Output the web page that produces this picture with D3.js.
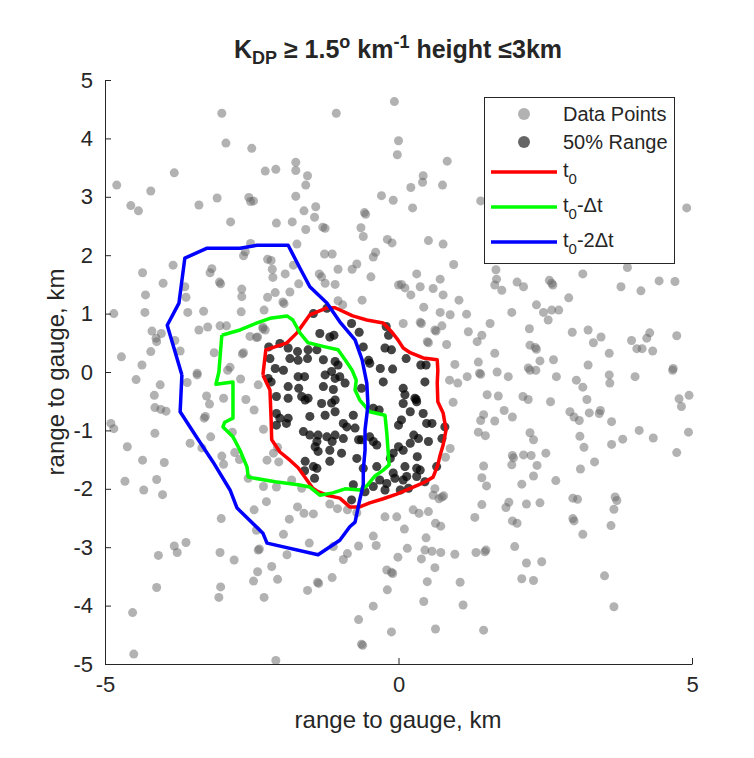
<!DOCTYPE html>
<meta charset="utf-8">
<style>
body { margin: 0; background: #fff; }
text { font-family: "Liberation Sans", Arial, Helvetica, sans-serif; fill: #262626; }
.axis .domain { stroke: #262626; }
.axis line { stroke: #262626; }
</style>
<body>
<svg width="754" height="758"></svg>
<script src="https://cdn.jsdelivr.net/npm/d3@7/dist/d3.min.js"></script>
<script>
// all radar points (km east, km north of the gauge)
var lightPts = [
  [-4.80,3.20],[-4.56,2.85],[-4.43,2.76],[-4.22,3.10],[-3.82,3.41],[-3.01,4.43],[-2.94,3.92],[-2.50,3.83],
  [-3.40,2.86],[-3.09,2.98],[-2.55,2.99],[-2.47,2.93],[-2.52,2.92],[-2.27,3.44],[-2.09,3.47],[-1.75,3.59],
  [-1.75,3.45],[-1.55,3.36],[-1.58,3.20],[-1.75,3.01],[-1.61,2.76],[-1.41,2.83],[-1.43,2.65],[-1.58,2.44],
  [-1.29,2.48],[-1.25,2.46],[-1.81,2.57],[-2.08,2.55],[-2.86,2.57],[-1.06,4.43],[-0.07,4.63],[0.00,3.96],
  [-0.02,3.72],[-0.29,3.02],[-0.09,2.94],[-0.58,2.73],[-0.56,2.70],[-0.64,2.47],[-0.60,2.32],[-0.19,2.27],
  [-0.11,2.21],[-0.43,1.97],[-0.39,2.05],[-0.71,1.85],[-0.79,1.76],[-0.47,1.63],[0.00,1.49],[-1.03,1.76],
  [-1.08,1.50],[-1.25,1.52],[-1.35,1.68],[-1.31,1.63],[-1.26,2.02],[-1.13,2.02],[-1.70,1.51],[-1.85,1.37],
  [-1.93,1.68],[-1.79,1.83],[-1.73,2.19],[-2.14,1.62],[-2.15,1.76],[-2.23,1.93],[-2.17,1.91],[-2.10,1.36],
  [-2.23,1.28],[-1.97,1.20],[-1.95,1.17],[-2.29,1.06],[-2.31,0.77],[-2.42,0.59],[-2.67,1.42],[-2.67,1.29],
  [-2.68,1.03],[-2.64,1.99],[-2.61,2.06],[-2.52,2.20],[-3.21,1.70],[-3.18,1.77],[-3.05,1.54],[-3.03,1.51],
  [-3.84,1.83],[-4.36,1.70],[-4.01,1.52],[-4.31,1.32],[-4.32,1.02],[-4.85,1.00],[-3.64,1.46],[-3.62,1.28],
  [-3.59,1.02],[-3.32,1.04],[-4.20,0.70],[-4.13,0.58],[-4.12,0.52],[-4.04,0.66],[-3.81,0.54],[-4.22,0.35],
  [-3.72,0.36],[-4.72,0.26],[-4.37,0.12],[-3.40,0.72],[-3.25,0.77],[-3.04,0.79],[-2.93,0.79],[-3.14,0.33],
  [-2.87,0.08],[-2.66,0.31],[-2.64,0.33],[-2.27,0.72],[-2.31,0.74],[-2.53,0.61],[-2.40,0.60],[-3.43,-0.02],
  [-1.03,1.22],[-0.95,1.15],[-0.62,1.23],
  [0.83,3.61],[0.42,3.36],[0.41,3.25],[0.21,3.16],[0.75,3.20],[0.24,2.81],[1.40,2.93],[4.91,2.81],
  [0.51,2.25],[0.76,2.19],[0.94,1.84],[0.31,1.68],[0.05,1.50],[0.11,1.44],[0.21,1.32],[0.37,1.46],
  [0.59,1.43],[0.71,1.59],[0.76,1.32],[1.03,1.23],[0.43,1.11],[0.71,1.02],[0.88,0.98],[1.16,0.99],
  [0.08,0.83],[0.37,0.85],[0.39,0.83],[0.74,0.79],[0.62,0.72],[0.64,0.70],[0.49,0.52],[0.51,0.50],
  [0.82,0.47],[1.19,0.69],[1.34,0.52],[1.42,0.63],[1.56,0.83],[1.64,0.32],[1.36,0.17],[0.96,0.13],
  [1.67,1.59],[1.66,1.75],[1.64,1.49],[1.76,1.40],[2.02,1.54],[2.13,1.46],[1.93,1.02],[2.57,1.57],
  [2.63,1.49],[2.61,1.52],[2.90,1.27],[2.47,1.02],[2.55,0.89],[2.61,1.06],[2.73,1.06],[2.35,1.15],
  [3.14,1.68],[3.90,1.79],[3.79,1.46],[4.13,1.39],[4.44,1.56],[4.71,1.55],[2.23,0.74],[2.24,0.46],
  [2.35,0.39],[2.33,0.42],[2.41,0.19],[2.64,0.21],[2.96,0.68],[3.23,0.72],[3.45,0.60],[3.32,0.50],
  [3.59,0.32],[3.97,0.54],[4.06,0.40],[4.15,0.40],[4.28,0.67],[4.23,0.58],[4.33,0.36],[4.74,0.62],
  [4.68,0.06],[3.23,0.12],[2.21,0.07],
  [0.87,-0.14],[1.01,-0.19],[1.17,-0.08],[1.38,-0.02],[1.40,-0.04],[1.68,0.00],[1.87,-0.08],[2.24,0.03],
  [2.34,0.03],[2.69,-0.08],[3.03,-0.14],[3.14,-0.26],[3.59,-0.05],[3.60,-0.19],[4.03,-0.08],[4.67,0.03],
  [4.78,-0.46],[4.82,-0.59],[4.95,-0.40],[0.93,-0.52],[1.51,-0.39],[1.70,-0.41],[2.12,-0.42],[2.21,-0.47],
  [2.59,-0.51],[3.21,-0.47],[2.92,-0.68],[2.99,-0.77],[3.08,-0.83],[3.25,-0.70],[3.42,-0.71],[3.44,-0.66],
  [3.63,-0.85],[4.10,-1.00],[4.34,-1.13],[3.82,-1.15],[3.63,-1.24],[4.94,-1.03],[4.74,-1.38],[1.45,-0.73],
  [1.40,-0.83],[1.64,-0.84],[1.80,-0.66],[1.94,-0.77],[1.36,-1.03],[1.48,-1.09],[2.24,-1.04],[2.30,-1.16],
  [3.09,-1.10],[3.16,-1.29],[3.34,-1.54],[3.10,-1.66],[1.94,-1.43],[1.93,-1.59],[1.96,-1.47],[2.13,-1.42],
  [2.26,-1.43],[2.51,-1.39],[2.36,-1.60],[2.30,-1.78],[2.10,-1.92],[2.68,-1.86],[1.45,-1.61],[1.42,-1.81],
  [1.50,-1.95],[0.88,-1.31],[0.80,-1.46],[0.74,-2.14],[0.59,-2.11],[0.69,-2.17],[0.77,-2.12],[0.62,-2.00],
  [1.42,-2.27],[1.88,-2.23],[1.83,-2.32],[2.18,-2.26],[2.41,-2.24],[2.97,-2.16],[3.05,-2.18],[3.69,-2.14],
  [3.72,-2.20],[3.67,-2.35],[3.62,-2.63],[3.14,-2.78],[2.97,-2.51],[2.99,-2.55],[1.94,-2.55],[2.02,-2.59],
  [1.30,-2.49],[0.10,-2.69],[-0.03,-2.48],[0.25,-2.36],[0.35,-2.42],[0.51,-2.39],[0.63,-2.59],[0.72,-2.64],
  [0.47,-2.84],[0.15,-3.02],[0.45,-3.05],[0.57,-3.07],[0.72,-3.09],[0.96,-3.12],[1.32,-3.09],[1.49,-3.05],
  [1.47,-3.08],[1.98,-2.99],[-0.01,-3.17],[0.39,-3.20],[0.62,-3.35],[2.18,-3.27],[2.44,-3.25],[2.10,-3.54],
  [2.30,-3.57],[0.49,-3.59],[1.05,-3.60],[3.51,-3.49],[0.43,-3.93],[1.10,-3.99],[3.67,-4.02],[0.63,-4.40],
  [1.45,-4.42],
  [-4.47,-0.13],[-4.06,-0.22],[-4.16,-0.40],[-4.15,-0.61],[-4.05,-0.64],[-3.96,-0.67],[-4.90,-0.88],[-4.85,-0.97],
  [-4.62,-1.28],[-4.36,-1.51],[-3.99,-1.55],[-4.66,-1.87],[-4.12,-1.84],[-4.34,-2.02],[-4.02,-2.10],[-4.15,-1.05],
  [-3.55,-1.22],[-3.60,-0.18],[-3.43,-0.05],[-3.27,-0.41],[-3.22,-0.55],[-3.31,-0.79],[-3.29,-0.76],[-3.20,-1.11],
  [-3.35,-1.30],[-3.01,-1.44],[-2.98,-1.58],[-2.79,-1.38],[-2.71,-1.50],[-2.98,-0.45],[-2.83,-1.03],[-2.69,-0.12],
  [-2.60,-0.47],[-2.46,-0.65],[-2.30,-0.98],[-2.39,-0.22],[-2.91,0.03],[-2.24,-1.51],[-2.13,-1.39],[-2.04,-1.54],
  [-2.06,-1.29],[-2.56,-1.82],[-2.30,-1.96],[-2.08,-1.97],[-1.82,-1.85],[-1.65,-1.99],[-2.46,-2.36],[-3.02,-2.51],
  [-1.72,-2.31],[-1.61,-2.42],[-1.45,-2.43],[-1.86,-2.52],[-2.42,-2.71],[-1.96,-2.78],[-2.39,-3.05],[-2.37,-3.03],
  [-1.90,-3.13],[-2.16,-3.33],[-2.40,-3.42],[-2.06,-3.55],[-2.47,-3.58],[-2.29,-3.86],[-3.04,-3.09],[-2.80,-3.22],
  [-3.03,-3.68],[-3.06,-3.86],[-3.82,-2.98],[-3.77,-3.09],[-3.62,-2.92],[-4.09,-3.14],[-4.12,-3.69],[-4.53,-4.12],
  [-4.51,-4.83],[-2.09,-4.94],[-1.17,-2.26],[-1.04,-2.34],[-0.87,-2.36],[-0.71,-2.41],[-1.52,-2.93],[-1.38,-3.60],
  [-1.36,-3.62],[-1.55,-3.74],[-1.13,-3.52],[-0.94,-3.21],[-0.87,-3.11],[-0.68,-2.98],[-1.11,-2.99],[-0.43,-2.81],
  [-0.38,-2.97],[-0.23,-2.48],[-0.20,-3.39],[-0.10,-3.45],[-0.12,-3.43],[-0.19,-3.73],[-0.43,-4.01],[-0.68,-4.24],
  [-0.63,-4.66],[-0.61,-4.68],[-0.12,-4.45],[-2.25,-2.22]
];

// points inside the 50% range (drawn dark on top)
var rangePts = [
  [-1.34,0.66],[-1.10,0.63],[-1.17,0.60],[-2.21,0.43],[-2.02,0.49],[-1.88,0.41],[-1.72,0.35],[-1.54,0.38],
  [-1.39,0.38],[-1.85,0.23],[-1.71,0.20],[-1.55,0.23],[-1.28,0.21],[-1.08,0.18],[-1.03,0.12],[-2.10,0.06],
  [-1.96,0.03],[-1.60,-0.08],[-1.71,-0.08],[-1.25,-0.05],[-1.14,0.01],[-1.08,-0.11],[-1.00,-0.08],[-2.22,-0.11],
  [-2.17,-0.17],[-1.88,-0.25],[-1.70,-0.28],[-1.28,-0.25],[-1.11,-0.30],[-0.91,-0.19],[-2.08,-0.42],[-1.88,-0.45],
  [-1.65,-0.42],[-1.59,-0.48],[-1.54,-0.45],[-1.08,-0.48],[-1.45,1.00],[-1.22,1.09],[-2.19,0.23],
  [-0.80,0.83],[-0.67,0.68],[-0.21,0.78],[-0.17,0.63],[-0.60,0.43],[-0.23,0.41],[-0.12,0.38],[-0.51,0.20],
  [-0.49,0.15],[-0.31,0.06],[-0.10,0.05],[0.13,0.23],[0.38,0.12],[0.47,0.12],[0.45,-0.17],[-0.26,-0.17],
  [0.08,-0.28],[0.11,-0.39],[0.28,-0.45],[0.30,-0.47],[-0.63,-0.28],
  [-1.31,-0.54],[-1.14,-0.53],[-1.08,-0.68],[-2.08,-0.71],[-2.02,-0.79],[-1.88,-0.79],[-1.91,-0.88],[-1.51,-0.76],
  [-1.25,-0.74],[-0.94,-0.88],[-0.88,-0.94],[-2.08,-0.91],[-1.62,-1.02],[-1.51,-1.08],[-1.37,-1.08],[-1.39,-1.19],
  [-1.22,-1.11],[-1.08,-1.08],[-1.13,-1.19],[-0.94,-1.14],[-1.42,-1.28],[-1.37,-1.36],[-1.17,-1.34],[-0.97,-1.39],
  [-1.59,-1.53],[-1.45,-1.62],[-1.39,-1.65],[-1.17,-1.53],[-1.60,-1.69],[-1.43,-1.82],
  [-0.77,-0.74],[-0.43,-0.62],[-0.33,-0.65],[0.08,-0.54],[0.31,-0.51],[0.20,-0.68],[0.42,-0.71],[0.48,-0.88],
  [0.57,-0.88],[0.05,-0.82],[0.00,-0.91],[-0.74,-0.96],[-0.68,-1.16],[-0.63,-1.16],[-0.49,-1.11],[-0.43,-1.19],
  [0.26,-1.08],[0.34,-1.14],[0.51,-1.19],[0.20,-1.22],[0.00,-1.28],[0.08,-1.34],[-0.37,-1.25],[-0.71,-1.48],
  [-0.14,-1.48],[-0.09,-1.39],[0.31,-1.65],[0.37,-1.68],[-0.37,-1.62],[0.11,-1.62],[-0.77,-1.93],[-0.32,-1.85],
  [-0.43,-1.96],[-0.09,-1.73],[-0.06,-1.82],[0.08,-1.85],[0.14,-1.79],[0.31,-1.79],[0.45,-1.88],[-0.20,-1.91],
  [-0.23,-2.02],[0.03,-2.02],[0.17,-1.99],[-0.80,-2.19],[-0.57,-2.05],[-0.60,-1.65],
  [0.79,-0.94],[0.74,-1.14],[0.65,-1.62],[0.32,-1.45]
];

// 50% range outlines
var t0Line = [
  [-2.31,-0.05],[-2.26,0.38],[-1.90,0.50],[-1.73,0.67],[-1.51,0.98],[-1.22,1.10],[-1.08,1.10],[-0.78,0.96],
  [-0.54,0.89],[-0.26,0.84],[-0.11,0.68],[-0.01,0.55],[0.08,0.41],[0.20,0.33],[0.42,0.24],[0.66,0.21],
  [0.67,0.03],[0.66,-0.19],[0.67,-0.51],[0.76,-0.70],[0.81,-0.99],[0.76,-1.25],[0.71,-1.42],[0.67,-1.59],
  [0.59,-1.80],[0.42,-1.90],[0.14,-2.02],[-0.03,-2.09],[-0.26,-2.17],[-0.49,-2.24],[-0.66,-2.31],[-0.83,-2.31],
  [-1.00,-2.16],[-1.22,-2.11],[-1.37,-2.05],[-1.46,-1.99],[-1.56,-1.85],[-1.71,-1.64],[-1.85,-1.51],[-2.02,-1.37],
  [-2.16,-1.16],[-2.17,-0.82],[-2.19,-0.31],[-2.31,-0.05]
];
var t1Line = [
  [-3.01,0.63],[-2.70,0.72],[-2.41,0.84],[-2.19,0.92],[-1.90,0.96],[-1.80,0.89],[-1.68,0.67],[-1.54,0.50],
  [-1.25,0.43],[-1.03,0.38],[-0.91,0.21],[-0.79,0.03],[-0.72,-0.14],[-0.74,-0.31],[-0.66,-0.48],[-0.49,-0.68],
  [-0.23,-0.74],[-0.20,-1.04],[-0.16,-1.59],[-0.26,-1.68],[-0.40,-1.78],[-0.54,-1.95],[-0.66,-2.02],[-0.91,-2.00],
  [-1.12,-2.07],[-1.34,-2.11],[-1.51,-1.97],[-1.71,-1.93],[-2.10,-1.88],[-2.56,-1.80],[-2.58,-1.63],[-2.70,-1.34],
  [-2.82,-1.11],[-2.99,-0.94],[-2.96,-0.86],[-2.82,-0.79],[-2.82,-0.17],[-3.11,-0.21],[-3.06,0.00],[-3.01,0.63]
];
var t2Line = [
  [-3.69,-0.05],[-3.94,0.80],[-3.74,1.18],[-3.64,1.95],[-3.26,2.12],[-2.70,2.12],[-2.41,2.17],[-1.88,2.17],
  [-1.68,1.78],[-1.51,1.46],[-1.22,1.18],[-1.00,0.86],[-0.74,0.55],[-0.62,0.21],[-0.54,-0.19],[-0.52,-0.57],
  [-0.57,-0.99],[-0.57,-1.34],[-0.60,-1.68],[-0.60,-1.93],[-0.66,-2.19],[-0.74,-2.57],[-0.83,-2.65],[-1.00,-2.88],
  [-1.37,-3.13],[-2.24,-2.93],[-2.31,-2.76],[-2.75,-2.33],[-2.87,-2.02],[-3.16,-1.54],[-3.43,-1.13],[-3.72,-0.68],
  [-3.69,-0.05]
];

var xTicks = [-5, 0, 5];
var yTicks = [-5, -4, -3, -2, -1, 0, 1, 2, 3, 4, 5];
var lineNames = ["t0", "t0-Δt", "t0-2Δt"];
var lineColors = ["#ff0000", "#00ff00", "#0000ff"];

var svg = d3.select("svg");
var x = d3.scaleLinear().domain([-5, 5]).range([105, 692]);
var y = d3.scaleLinear().domain([-5, 5]).range([664, 80]);

// points
var allPts = lightPts.concat(rangePts);
svg.append("g").selectAll("circle")
  .data(allPts)
  .enter().append("circle")
    .attr("cx", function(d) { return x(d[0]); })
    .attr("cy", function(d) { return y(d[1]); })
    .attr("r", 4.5)
    .attr("fill", "#666")
    .attr("fill-opacity", 0.5);

svg.append("g").selectAll("circle")
  .data(rangePts)
  .enter().append("circle")
    .attr("cx", function(d) { return x(d[0]); })
    .attr("cy", function(d) { return y(d[1]); })
    .attr("r", 4.5)
    .attr("fill", "#000")
    .attr("fill-opacity", 0.62);

// outlines
var line = d3.line()
  .x(function(d) { return x(d[0]); })
  .y(function(d) { return y(d[1]); });

[t0Line, t1Line, t2Line].forEach(function(pts, i) {
  svg.append("path")
    .attr("d", line(pts))
    .attr("fill", "none")
    .attr("stroke", lineColors[i])
    .attr("stroke-width", 3.5)
    .attr("stroke-linejoin", "round");
});

// axes
var fmt = function(d) { return String(d); };
svg.append("g")
    .attr("class", "axis")
    .attr("transform", "translate(0,664)")
    .call(d3.axisBottom(x).tickValues(xTicks).tickSizeInner(-6).tickSizeOuter(0).tickPadding(12).tickFormat(fmt))
    .call(function(g) { g.selectAll("text").attr("font-size", 22).attr("font-family", null); });

svg.append("g")
    .attr("class", "axis")
    .attr("transform", "translate(105,0)")
    .call(d3.axisLeft(y).tickValues(yTicks).tickSizeInner(-6).tickSizeOuter(0).tickPadding(12).tickFormat(fmt))
    .call(function(g) { g.selectAll("text").attr("font-size", 22).attr("font-family", null); });

svg.selectAll(".axis text").style("fill", "#262626");

// axis labels
svg.append("text")
    .attr("x", 398)
    .attr("y", 728)
    .attr("text-anchor", "middle")
    .attr("font-size", 24)
    .text("range to gauge, km");

svg.append("text")
    .attr("transform", "translate(64,372) rotate(-90)")
    .attr("text-anchor", "middle")
    .attr("font-size", 24)
    .text("range to gauge, km");

// title
var title = svg.append("text")
    .attr("x", 398)
    .attr("y", 58)
    .attr("text-anchor", "middle")
    .attr("font-size", 25)
    .attr("font-weight", "bold");
title.append("tspan").text("K");
title.append("tspan").attr("font-size", 18).attr("dy", 6).text("DP");
title.append("tspan").attr("dy", -6).text(" \u2265 1.5");
title.append("tspan").attr("font-size", 18).attr("dy", -10).text("o");
title.append("tspan").attr("dy", 10).text(" km");
title.append("tspan").attr("font-size", 18).attr("dy", -10).text("-1");
title.append("tspan").attr("dy", 10).text(" height \u22643km");

// legend
var legend = svg.append("g");
legend.append("rect")
    .attr("x", 484.5).attr("y", 97.5)
    .attr("width", 190).attr("height", 166)
    .attr("fill", "#fff")
    .attr("stroke", "#262626")
    .attr("stroke-width", 1);

legend.append("circle").attr("cx", 524).attr("cy", 114).attr("r", 6)
    .attr("fill", "#666").attr("fill-opacity", 0.5);
legend.append("circle").attr("cx", 524).attr("cy", 142).attr("r", 6)
    .attr("fill", "#000").attr("fill-opacity", 0.6);
legend.append("text").attr("x", 563).attr("y", 121).attr("font-size", 20).text("Data Points");
legend.append("text").attr("x", 563).attr("y", 149).attr("font-size", 20).text("50% Range");

var rowY = [172, 207, 242];
lineNames.forEach(function(name, i) {
  legend.append("line")
    .attr("x1", 491).attr("x2", 557)
    .attr("y1", rowY[i]).attr("y2", rowY[i])
    .attr("stroke", lineColors[i])
    .attr("stroke-width", 3.5);
  var t = legend.append("text").attr("x", 563).attr("y", rowY[i] + 5).attr("font-size", 20);
  t.append("tspan").text("t");
  t.append("tspan").attr("font-size", 15).attr("dy", 7).text("0");
  if (name.length > 2) t.append("tspan").attr("dy", -7).text(name.slice(2));
});
</script>
</body>
